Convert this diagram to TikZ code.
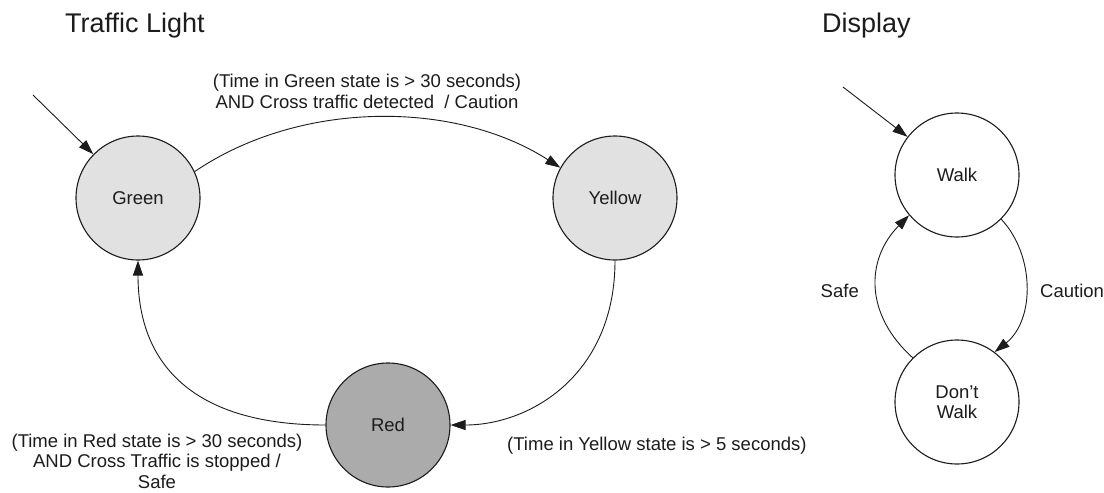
\documentclass[tikz,border=0pt]{standalone}
\usepackage{fontspec}
\setmainfont{Liberation Sans}
\usetikzlibrary{arrows.meta}
\newcommand\lblfont{\fontsize{18.5}{20.5}\selectfont}
\newcommand\ttlfont{\fontsize{27}{30}\selectfont}
\definecolor{inkgray}{HTML}{1C1C1C}
\definecolor{lightfill}{HTML}{E1E1E1}
\definecolor{darkfill}{HTML}{ABABAB}
\begin{document}
\begin{tikzpicture}[x=1pt,y=-1pt,
  state/.style={circle, draw=inkgray, line width=1.1pt, minimum size=124pt,
    inner sep=0pt, font=\lblfont, text=inkgray, align=center},
  trans/.style={draw=inkgray, line width=0.9pt,
    -{Triangle[length=15pt,width=10pt]}},
  lbl/.style={font=\lblfont, text=inkgray, inner sep=0pt},
  ttl/.style={font=\ttlfont, text=inkgray, inner sep=0pt}]

% canvas
\fill[white] (0,0) rectangle (1104,493);
\useasboundingbox (0,0) rectangle (1104,493);

% ---- traffic light machine ----
\node[ttl, anchor=base west] (tlTitle) at (65,32) {Traffic Light};

\node[state, fill=lightfill] (green)  at (138,198) {Green};
\node[state, fill=lightfill] (yellow) at (615,198) {Yellow};
\node[state, fill=darkfill]  (red)    at (388,425) {Red};

\coordinate (greenInit) at (33,95);
\draw[trans] (greenInit) -- (green);

\draw[trans] (green.25) .. controls (300,100) and (455,100) .. (yellow.151);
\draw[trans] (yellow.south) .. controls (615,375) and (530,425) .. (red.east);
\draw[trans] (red.west) .. controls (200,425) and (138,370) .. (green.south);

% multi-line labels: the base anchor sits on the last line
\node[lbl, align=center, anchor=base] (greenYellowLbl) at (367,108)
  {(Time in Green state is > 30 seconds)\\AND Cross traffic detected\ \ / Caution};
\node[lbl, align=center, anchor=base] (redGreenLbl) at (157,488)
  {(Time in Red state is > 30 seconds)\\AND Cross Traffic is stopped /\\Safe};
\node[lbl, anchor=base west] (yellowRedLbl) at (507,450)
  {(Time in Yellow state is > 5 seconds)};

% ---- display machine ----
\node[ttl, anchor=base west] (dispTitle) at (822,32) {Display};

\node[state, fill=white] (walk)     at (957,175) {Walk};
\node[state, fill=white] (dontWalk) at (957,402) {Don't\\Walk};

\coordinate (walkInit) at (843,87);
\draw[trans] (walkInit) -- (walk);

\draw[trans] (walk.-45) .. controls (1035,255) and (1035,320) .. (dontWalk.53);
\draw[trans] (dontWalk.135) .. controls (865,315) and (865,260) .. (walk.-140);

\node[lbl, anchor=base east] (safeLbl)    at (859,297) {Safe};
\node[lbl, anchor=base west] (cautionLbl) at (1040,297) {Caution};
\end{tikzpicture}
\end{document}
